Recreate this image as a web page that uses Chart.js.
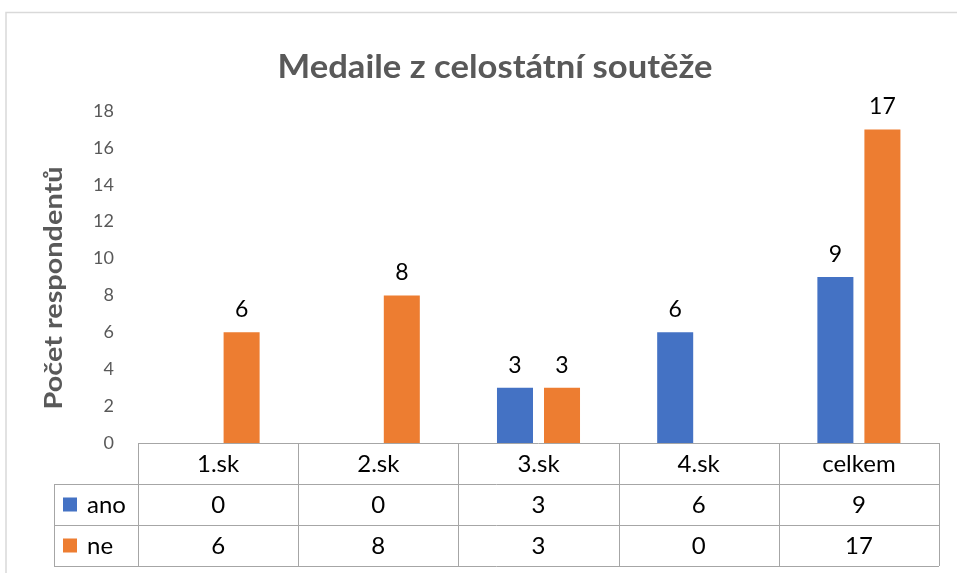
<!DOCTYPE html>
<html>
<head>
<meta charset="utf-8">
<script src="https://cdn.jsdelivr.net/npm/chart.js@4.4.0/dist/chart.umd.min.js"></script>
<style>
  html, body { margin: 0; padding: 0; background: #fff; }
  #wrap { width: 957px; height: 573px; position: relative; }
</style>
</head>
<body>
<div id="wrap"><canvas id="medChart"></canvas></div>
<script>
const categories = ['1.sk', '2.sk', '3.sk', '4.sk', 'celkem'];
const seriesNames = ['ano', 'ne'];
const anoValues = [0, 0, 3, 6, 9];
const neValues = [6, 8, 3, 0, 17];
const yTicks = [0, 2, 4, 6, 8, 10, 12, 14, 16, 18];
const chartTitle = 'Medaile z celostátní soutěže';
const yTitle = 'Počet respondentů';
const seriesColors = ['#4472C4', '#ED7D31'];

const FONT = 'Lato, "Open Sans", sans-serif';
const GRAY = '#595959';
const LINE = '#a6a6a6';

// title, axis title, bar labels and the data table under the plot
const extrasPlugin = {
  id: 'extras',
  afterDatasetsDraw(chart) {
    const ctx = chart.ctx;
    ctx.save();
    ctx.fillStyle = '#000';
    ctx.font = '23px ' + FONT;
    ctx.textAlign = 'center';
    ctx.textBaseline = 'alphabetic';
    chart.data.datasets.forEach((ds, di) => {
      const meta = chart.getDatasetMeta(di);
      meta.data.forEach((bar, i) => {
        if (!ds.data[i]) return;
        ctx.fillText(ds.data[i], bar.x, bar.y - 15);
      });
    });
    ctx.restore();
  },
  afterDraw(chart) {
    const ctx = chart.ctx;
    const area = chart.chartArea;
    const xs = chart.scales.x;
    const rowH = 41;
    const legendLeft = 54;
    ctx.save();

    // outer frame
    ctx.strokeStyle = '#d9d9d9';
    ctx.lineWidth = 1.5;
    ctx.beginPath();
    ctx.moveTo(6, 600);
    ctx.lineTo(6, 12.5);
    ctx.lineTo(1000, 12.5);
    ctx.stroke();

    // chart title (Excel renders it a little wider than Lato)
    ctx.fillStyle = GRAY;
    ctx.font = 'bold 32px ' + FONT;
    ctx.textAlign = 'center';
    ctx.textBaseline = 'alphabetic';
    ctx.save();
    ctx.translate(495, 78);
    ctx.scale(435 / ctx.measureText(chartTitle).width, 1);
    ctx.fillText(chartTitle, 0, 0);
    ctx.restore();

    // y axis title
    ctx.save();
    ctx.translate(54, 288);
    ctx.rotate(-Math.PI / 2);
    ctx.font = 'bold 24px ' + FONT;
    ctx.textBaseline = 'middle';
    ctx.scale(243 / ctx.measureText(yTitle).width, 1);
    ctx.fillText(yTitle, 0, 0);
    ctx.restore();

    // table grid
    const step = (area.right - area.left) / categories.length;
    const top = area.bottom;
    const bottom = top + rowH * 3;
    ctx.strokeStyle = LINE;
    ctx.lineWidth = 1;
    ctx.beginPath();
    for (let r = 0; r <= 3; r++) {
      const yy = Math.round(top + rowH * r) + 0.5;
      ctx.moveTo(r === 0 ? area.left : legendLeft, yy);
      ctx.lineTo(area.right, yy);
    }
    for (let c = 0; c <= categories.length; c++) {
      const xx = Math.round(area.left + step * c) + 0.5;
      ctx.moveTo(xx, top);
      ctx.lineTo(xx, bottom);
    }
    ctx.moveTo(legendLeft + 0.5, top + rowH);
    ctx.lineTo(legendLeft + 0.5, bottom);
    ctx.stroke();

    // table text
    ctx.fillStyle = '#000';
    ctx.font = '24px ' + FONT;
    ctx.textAlign = 'center';
    ctx.textBaseline = 'alphabetic';
    categories.forEach((cat, i) => {
      const cx = xs.getPixelForValue(i);
      ctx.fillText(cat, cx, top + rowH * 0.5 + 8);
      chart.data.datasets.forEach((ds, di) => {
        ctx.fillText(ds.data[i], cx, top + rowH * (1.5 + di) + 8);
      });
    });

    // legend keys
    chart.data.datasets.forEach((ds, di) => {
      const cy = top + rowH * (1.5 + di);
      ctx.fillStyle = ds.backgroundColor;
      ctx.fillRect(63, cy - 7, 14, 14);
      ctx.fillStyle = '#000';
      ctx.textAlign = 'left';
      ctx.fillText(ds.label, 87, cy + 8);
    });
    ctx.restore();
  }
};

new Chart(document.getElementById('medChart'), {
  type: 'bar',
  data: {
    labels: categories,
    datasets: [
      { label: seriesNames[0], data: anoValues, backgroundColor: seriesColors[0] },
      { label: seriesNames[1], data: neValues, backgroundColor: seriesColors[1] }
    ]
  },
  options: {
    responsive: true,
    maintainAspectRatio: false,
    animation: false,
    layout: { padding: { left: 0, right: 18, top: 111, bottom: 130 } },
    datasets: { bar: { categoryPercentage: 0.587, barPercentage: 0.766 } },
    plugins: {
      legend: { display: false },
      title: { display: false },
      tooltip: { enabled: false }
    },
    scales: {
      x: {
        grid: { display: false },
        border: { display: false },
        ticks: { display: false },
        afterFit(scale) { scale.height = 0; }
      },
      y: {
        min: 0,
        max: 18,
        afterBuildTicks(scale) { scale.ticks = yTicks.map(v => ({ value: v })); },
        grid: { display: false, drawTicks: false },
        border: { display: false },
        ticks: { color: GRAY, font: { family: FONT, size: 18 }, padding: 24 },
        afterFit(scale) { scale.width = 138; }
      }
    }
  },
  plugins: [extrasPlugin]
});
</script>
</body>
</html>
